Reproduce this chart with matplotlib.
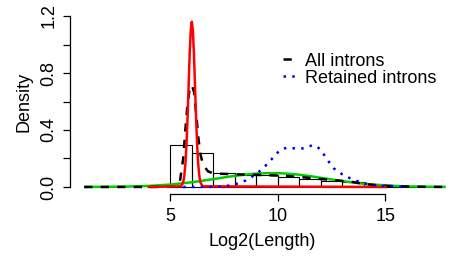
import matplotlib
matplotlib.use("Agg")
import matplotlib.pyplot as plt
from matplotlib.lines import Line2D

plt.rcParams['font.family'] = ['Liberation Sans', 'DejaVu Sans']

# Histogram of log2 intron length (density)
hist_edges = [5, 6, 7, 8, 9, 10, 11, 12, 13, 14, 15, 16, 17]
hist_heights = [0.295, 0.240, 0.098, 0.087, 0.083, 0.073, 0.057, 0.043, 0.032, 0.018, 0.006, 0.002]

# Density of all introns (black dashed)
all_x = [1.0, 4.0, 5.0, 5.3, 5.45, 5.6, 5.7, 5.8, 5.9, 6.0, 6.1, 6.2, 6.3, 6.4, 6.5, 6.6, 6.75, 7.0,
         7.5, 8.0, 9.0, 10.0, 10.5, 11.0, 12.0, 13.0, 13.5, 14.0, 14.5, 15.0, 16.0, 17.0, 17.8]
all_y = [0.0, 0.0, 0.001, 0.005, 0.04, 0.20, 0.40, 0.58, 0.69, 0.715, 0.67, 0.52, 0.35, 0.23, 0.17,
         0.14, 0.11, 0.095, 0.092, 0.089, 0.085, 0.080, 0.076, 0.070, 0.056, 0.042, 0.034, 0.022,
         0.013, 0.008, 0.003, 0.001, 0.0]

# Density of retained introns (blue dotted)
ret_x = [5.6, 7.0, 7.5, 8.0, 8.5, 9.0, 9.5, 9.8, 10.1, 10.4, 10.7, 11.0, 11.3, 11.6, 11.8, 12.0,
         12.3, 12.6, 13.0, 13.5, 14.0, 14.5, 15.0, 15.5, 16.0]
ret_y = [0.0, 0.001, 0.004, 0.018, 0.045, 0.090, 0.160, 0.210, 0.260, 0.275, 0.272, 0.267, 0.275,
         0.293, 0.285, 0.260, 0.190, 0.130, 0.088, 0.050, 0.026, 0.012, 0.005, 0.002, 0.0]

# Mixture component 1 (red, narrow peak)
red_x = [4.0, 5.5, 5.6, 5.65, 5.7, 5.75, 5.8, 5.85, 5.9, 5.95, 6.0, 6.05, 6.1, 6.15, 6.2, 6.25,
         6.3, 6.35, 6.4, 6.5, 15.0]
red_y = [0.0, 0.0045, 0.033, 0.076, 0.157, 0.289, 0.476, 0.704, 0.93, 1.097, 1.16, 1.097, 0.93,
         0.704, 0.476, 0.289, 0.157, 0.076, 0.033, 0.0045, 0.0]

# Mixture component 2 (green, broad)
green_x = [1.0, 2.0, 3.0, 4.0, 5.0, 6.0, 7.0, 7.5, 8.0, 8.5, 9.0, 9.5, 10.0, 10.5, 11.0, 11.5,
           12.0, 13.0, 14.0, 15.0, 16.0, 17.0, 17.8]
green_y = [0.0002, 0.0009, 0.0027, 0.0073, 0.017, 0.033, 0.055, 0.067, 0.078, 0.087, 0.094, 0.097,
           0.097, 0.093, 0.086, 0.076, 0.064, 0.041, 0.022, 0.010, 0.004, 0.0014, 0.0005]

legend_labels = ["All introns", "Retained introns"]

fig = plt.figure(figsize=(4.54, 2.57), dpi=100)
ax = fig.add_axes([70 / 454, 1 - 193.8 / 257, (453.5 - 70) / 454, (193.8 - 9.2) / 257])

lw = 1.8
ax.bar(hist_edges[:-1], hist_heights, width=1.0, align='edge', fill=False,
       edgecolor='black', linewidth=0.8, zorder=1)
ax.plot(green_x, green_y, color='#00CD00', lw=lw, zorder=2, solid_capstyle='butt')
ax.plot(all_x, all_y, color='black', lw=lw, dashes=(3.3, 3.3), zorder=3)
ax.plot(red_x, red_y, color='#FF0000', lw=lw, zorder=4)
ax.plot(ret_x, ret_y, color='#0000FF', lw=lw, dashes=(1.0, 2.5), zorder=5)

ax.set_xlim(0.34, 18.16)
ax.set_ylim(-0.048, 1.248)

for s in ['top', 'right']:
    ax.spines[s].set_visible(False)
ax.spines['left'].set_bounds(0, 1.2)
ax.spines['bottom'].set_bounds(5, 15)
ax.spines['left'].set_linewidth(0.9)
ax.spines['bottom'].set_linewidth(0.9)

ax.set_xticks([5, 10, 15])
ax.set_yticks([0.0, 0.2, 0.4, 0.6, 0.8, 1.0, 1.2])
ax.set_yticklabels(['0.0', '', '0.4', '', '0.8', '', '1.2'], rotation=90, va='center')
ax.tick_params(axis='both', direction='out', length=5, width=0.9, labelsize=13)
ax.tick_params(axis='x', pad=5)
ax.tick_params(axis='y', pad=4)

ax.set_xlabel('Log2(Length)', fontsize=13, labelpad=6)
ax.set_ylabel('Density', fontsize=13, labelpad=6)

handles = [Line2D([], [], color='black', lw=lw, dashes=(3.3, 3.3)),
           Line2D([], [], color='#0000FF', lw=lw, dashes=(1.0, 2.5))]
ax.legend(handles, legend_labels, loc='upper left', bbox_to_anchor=(0.555, 0.765),
          frameon=False, fontsize=13, handlelength=0.75, handletextpad=0.45,
          labelspacing=0.0, borderpad=0, borderaxespad=0)

fig.savefig('out.png', dpi=100)
